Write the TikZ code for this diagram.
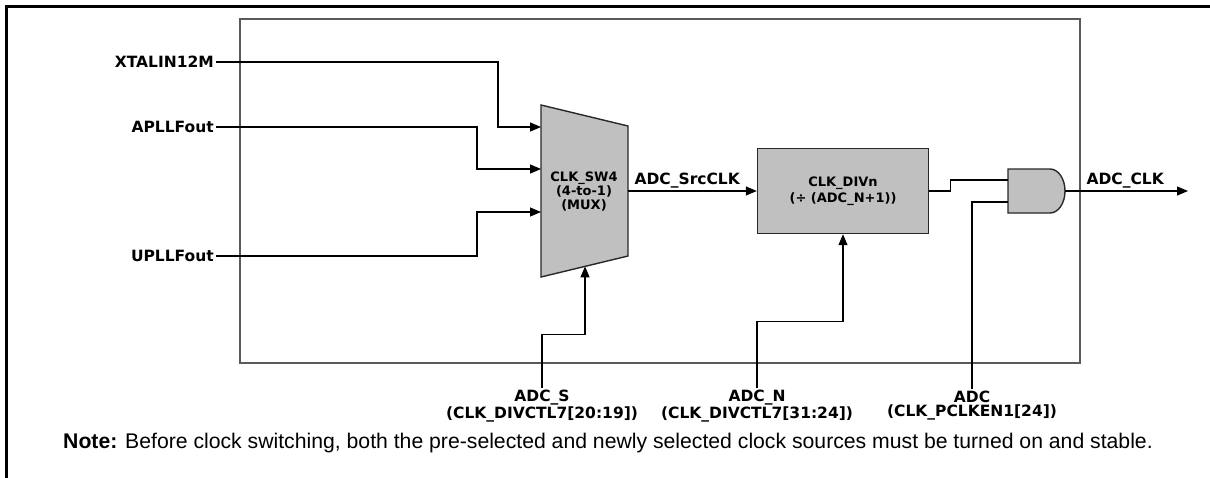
\documentclass[tikz,border=0pt]{standalone}
\usepackage{fontspec}
\setmainfont{Liberation Sans}
\newfontfamily\sigfont{DejaVu Sans}
\usepackage{tikz}
\usetikzlibrary{arrows.meta,positioning,calc}
\definecolor{blockfill}{RGB}{192,192,192}
\definecolor{frameline}{RGB}{90,90,90}
\definecolor{edgeline}{RGB}{40,40,40}

\begin{document}
\begin{tikzpicture}[x=1pt,y=-1pt,
  sig/.style={draw=black,line width=1.2pt},
  arr/.style={sig,-{Triangle[length=11pt,width=9pt]}},
  lbl/.style={font=\sigfont\bfseries\fontsize{15.5}{14}\selectfont,inner sep=2pt,align=center},
  inlbl/.style={font=\sigfont\bfseries\fontsize{13}{14}\selectfont,inner sep=0pt,align=center},
  block/.style={draw=edgeline,fill=blockfill,line width=1.4pt}]

  \useasboundingbox (0,0) rectangle (1210,477);
  \draw[line width=3pt] (6,490) -- (6,6) -- (1220,6);
  \draw[draw=frameline,line width=1.2pt] (240,19) rectangle (1080,363);

  % clock sources
  \node[lbl,anchor=east] (xtal) at (216,62) {XTALIN12M};
  \node[lbl,anchor=east] (apll) at (216,127) {APLLFout};
  \node[lbl,anchor=east] (upll) at (216,256) {UPLLFout};

  % mux
  \draw[block] (541,105) coordinate (muxnw) -- (628,126) coordinate (muxne)
    -- (628,256) coordinate (muxse) -- (541,277) coordinate (muxsw) -- cycle;
  \node[inlbl] (mux) at (584,192) {CLK\_SW4\\(4-to-1)\\(MUX)};
  \coordinate (muxin1) at (541,127);
  \coordinate (muxin2) at (541,169);
  \coordinate (muxin3) at (541,212);
  \coordinate (muxout) at (628,191);
  \coordinate (muxsel) at ($(muxsw)!0.506!(muxse)$);

  \draw[arr] (xtal.east) -| ([xshift=-43pt]muxin1) -- (muxin1);
  \draw[arr] (apll.east) -| ([xshift=-64pt]muxin2) -- (muxin2);
  \draw[arr] (upll.east) -| ([xshift=-64pt]muxin3) -- (muxin3);

  % divider
  \node[block,inlbl,minimum width=171pt,minimum height=85pt,font=\sigfont\bfseries\fontsize{13}{15.5}\selectfont] (div) at (843,191) {CLK\_DIVn\\(÷ (ADC\_N+1))};
  \draw[arr] (muxout) -- node[lbl,anchor=south west,pos=0,xshift=4pt] (srclbl) {ADC\_SrcCLK} (div.west);

  % gate
  \draw[block] (1008,169) coordinate (gatenw) -- (1050,169)
    arc[start angle=-90,end angle=90,x radius=15,y radius=22] -- (1008,213) -- cycle;
  \coordinate (gatein1) at (1008,180);
  \coordinate (gatein2) at (1008,202);
  \coordinate (gateout) at (1065,191);
  \coordinate (clkend) at (1188,191);

  \draw[sig] (div.east) -- ++(21,0) |- (gatein1);
  \draw[arr] (gateout) -- node[lbl,anchor=south west,pos=0,xshift=19pt] (clklbl) {ADC\_CLK} (clkend);

  % control bits
  \node[lbl] (adcs) at (542,406) {ADC\_S\\(CLK\_DIVCTL7[20:19])};
  \node[lbl] (adcn) at (757,406) {ADC\_N\\(CLK\_DIVCTL7[31:24])};
  \node[lbl] (adcen) at (972,406) {ADC\\(CLK\_PCLKEN1[24])};

  \draw[arr] (adcs.north) |- ($(muxsel)+(0,68)$) -- (muxsel);
  \draw[arr] (adcn.north) |- ($(div.south)+(0,87)$) -- (div.south);
  \draw[sig] (adcen.north) |- (gatein2);

  \node[anchor=west,font=\fontsize{21.2}{24}\selectfont,inner sep=0pt] (note) at (63,443)
    {\textbf{Note:} Before clock switching, both the pre-selected and newly selected clock sources must be turned on and stable.};
\end{tikzpicture}
\end{document}
